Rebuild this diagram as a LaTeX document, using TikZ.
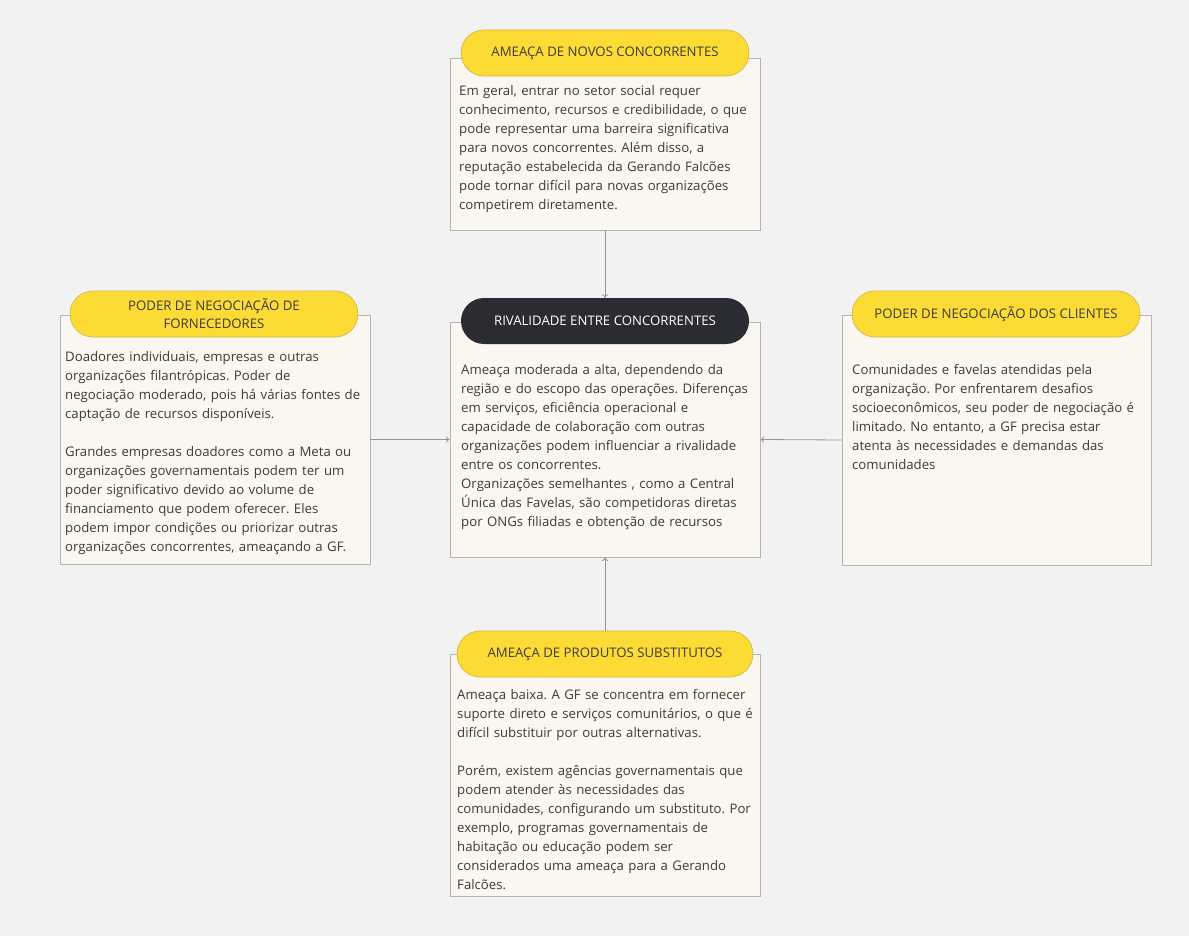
\documentclass[tikz,border=0pt]{standalone}
\usepackage{fontspec}
\setmainfont{Open Sans}
\usetikzlibrary{shapes,arrows.meta,positioning}
\usepackage{xcolor}
\definecolor{fundo}{HTML}{F2F2F2}
\definecolor{cartao}{HTML}{FAF6F0}
\definecolor{borda}{HTML}{B5B5B5}
\definecolor{amarelo}{HTML}{FDDB35}
\definecolor{bordaamarela}{HTML}{D2B84A}
\definecolor{escuro}{HTML}{2B2C31}
\definecolor{texto}{HTML}{3C3C3C}
\definecolor{seta}{HTML}{959595}
\frenchspacing

\begin{document}
\begin{tikzpicture}[x=1pt,y=1pt,yscale=-1,xscale=1,
  card/.style={draw=borda, fill=cartao, line width=0.9, minimum width=310},
  pill/.style={rounded corners=23, minimum width=288, minimum height=46, inner sep=2,
    font=\fontsize{13.2}{18}\selectfont, align=center},
  pillA/.style={pill, fill=amarelo, draw=bordaamarela, line width=0.7, text=texto},
  pillB/.style={pill, fill=escuro, text=white},
  txt/.style={anchor=north west, inner sep=0, text width=305, align=left,
    font=\fontsize{13.2}{19}\selectfont, text=texto},
  link/.style={draw=seta, line width=0.8, -{To[length=3.5, width=6]}}]
%background
\fill[fundo] (0,0) rectangle (1189,936);
\useasboundingbox (0,0) rectangle (1189,936);

%Card: novos concorrentes
\node[card, minimum height=172] (novos) at (605,144) {};
\node[pillA] (novosT) at (605,53) {AMEAÇA DE NOVOS CONCORRENTES};
% Text Node
\node[txt] (novosX) at (459,85) {Em geral, entrar no setor social requer\\
conhecimento, recursos e credibilidade, o que\\
pode representar uma barreira significativa\\
para novos concorrentes. Além disso, a\\
reputação estabelecida da Gerando Falcões\\
pode tornar difícil para novas organizações\\
competirem diretamente.};

%Card: fornecedores
\node[card, minimum height=249] (fornec) at (215,439.5) {};
\node[pillA] (fornecT) at (214,314) {PODER DE NEGOCIAÇÃO DE\\FORNECEDORES};
% Text Node
\node[txt] (fornecX) at (65,351) {Doadores individuais, empresas e outras\\
organizações filantrópicas. Poder de\\
negociação moderado, pois há várias fontes de\\
captação de recursos disponíveis.\\[19pt]
Grandes empresas doadores como a Meta ou\\
organizações governamentais podem ter um\\
poder significativo devido ao volume de\\
financiamento que podem oferecer. Eles\\
podem impor condições ou priorizar outras\\
organizações concorrentes, ameaçando a GF.};

%Card: rivalidade
\node[card, minimum height=235] (rival) at (605,439.5) {};
\node[pillB] (rivalT) at (605,321) {RIVALIDADE ENTRE CONCORRENTES};
% Text Node
\node[txt] (rivalX) at (461,364) {Ameaça moderada a alta, dependendo da\\
região e do escopo das operações. Diferenças\\
em serviços, eficiência operacional e\\
capacidade de colaboração com outras\\
organizações podem influenciar a rivalidade\\
entre os concorrentes.\\
Organizações semelhantes , como a Central\\
Única das Favelas, são competidoras diretas\\
por ONGs filiadas e obtenção de recursos};

%Card: clientes
\node[card, minimum height=250, minimum width=309] (clientes) at (996.5,440) {};
\node[pillA] (clientesT) at (996,314) {PODER DE NEGOCIAÇÃO DOS CLIENTES};
% Text Node
\node[txt] (clientesX) at (852,364) {Comunidades e favelas atendidas pela\\
organização. Por enfrentarem desafios\\
socioeconômicos, seu poder de negociação é\\
limitado. No entanto, a GF precisa estar\\
atenta às necessidades e demandas das\\
comunidades};

%Card: substitutos
\node[card, minimum height=242] (subst) at (605,775) {};
\node[pillA, minimum width=296] (substT) at (605,654) {AMEAÇA DE PRODUTOS SUBSTITUTOS};
% Text Node
\node[txt] (substX) at (457,689) {Ameaça baixa. A GF se concentra em fornecer\\
suporte direto e serviços comunitários, o que é\\
difícil substituir por outras alternativas.\\[19pt]
Porém, existem agências governamentais que\\
podem atender às necessidades das\\
comunidades, configurando um substituto. Por\\
exemplo, programas governamentais de\\
habitação ou educação podem ser\\
considerados uma ameaça para a Gerando\\
Falcões.};

%Straight Lines
\draw[link] (novos.south) -- (rivalT.north);
\draw[link] (fornec.east) -- (rival.west);
\draw[link] (clientes.west) -- (rival.east);
\draw[link] (substT.north) -- (rival.south);

\end{tikzpicture}
\end{document}
